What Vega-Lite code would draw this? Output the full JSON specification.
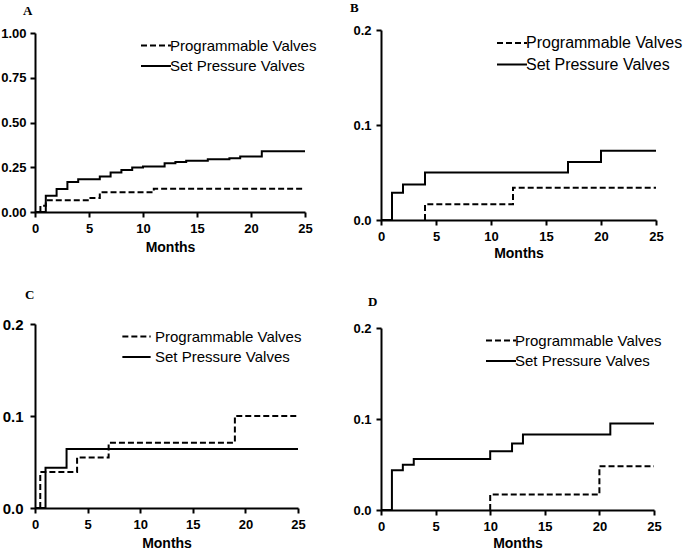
{
  "$schema": "https://vega.github.io/schema/vega-lite/v6.json",
  "padding": {"left": 0, "top": 2, "right": 0, "bottom": 0},
  "background": "white",
  "columns": 2,
  "spacing": {"column": 76, "row": 104},
  "bounds": "flush",
  "resolve": {
    "scale": {"strokeDash": "independent", "x": "independent", "y": "independent"},
    "legend": {"strokeDash": "independent"}
  },
  "config": {
    "view": {"stroke": null},
    "axis": {
      "domainColor": "black", "domainWidth": 2, "tickColor": "black", "tickWidth": 2, "tickSize": 5, "zindex": 1,
      "labelFlush": false, "labelOverlap": false,
      "labelFont": "Liberation Sans", "labelFontWeight": "bold", "labelFontSize": 13, "labelColor": "black",
      "grid": false, "titleFont": "Liberation Sans", "titleFontWeight": "bold", "titleFontSize": 14, "titleColor": "black"
    },
    "legend": {
      "symbolType": "stroke", "symbolSize": 900, "symbolStrokeWidth": 2, "symbolStrokeColor": "black",
      "labelFont": "Liberation Sans", "labelFontSize": 15, "labelColor": "black", "labelOffset": -2, "padding": 0,
      "clipHeight": 19, "rowPadding": 1.5
    },
    "title": {"font": "Liberation Serif", "fontSize": 13, "fontWeight": "bold", "anchor": "start", "frame": "group", "color": "black"},
    "line": {"color": "black", "strokeWidth": 2, "interpolate": "step-after"}
  },
  "datasets": {
    "A": [
      {"series": "Programmable Valves", "k": 0, "month": 0.5, "p": 0},
      {"series": "Programmable Valves", "k": 1, "month": 0.5, "p": 0.035},
      {"series": "Programmable Valves", "k": 2, "month": 1, "p": 0.065},
      {"series": "Programmable Valves", "k": 3, "month": 5, "p": 0.078},
      {"series": "Programmable Valves", "k": 4, "month": 6, "p": 0.111},
      {"series": "Programmable Valves", "k": 5, "month": 11, "p": 0.13},
      {"series": "Programmable Valves", "k": 6, "month": 25, "p": 0.13},
      {"series": "Set Pressure Valves", "k": 0, "month": 0, "p": 0},
      {"series": "Set Pressure Valves", "k": 1, "month": 1, "p": 0.091},
      {"series": "Set Pressure Valves", "k": 2, "month": 2, "p": 0.128},
      {"series": "Set Pressure Valves", "k": 3, "month": 3, "p": 0.167},
      {"series": "Set Pressure Valves", "k": 4, "month": 4, "p": 0.183},
      {"series": "Set Pressure Valves", "k": 5, "month": 6, "p": 0.198},
      {"series": "Set Pressure Valves", "k": 6, "month": 7, "p": 0.22},
      {"series": "Set Pressure Valves", "k": 7, "month": 8, "p": 0.235},
      {"series": "Set Pressure Valves", "k": 8, "month": 9, "p": 0.248},
      {"series": "Set Pressure Valves", "k": 9, "month": 10, "p": 0.254},
      {"series": "Set Pressure Valves", "k": 10, "month": 12, "p": 0.272},
      {"series": "Set Pressure Valves", "k": 11, "month": 13, "p": 0.279},
      {"series": "Set Pressure Valves", "k": 12, "month": 14, "p": 0.287},
      {"series": "Set Pressure Valves", "k": 13, "month": 16, "p": 0.295},
      {"series": "Set Pressure Valves", "k": 14, "month": 18, "p": 0.3},
      {"series": "Set Pressure Valves", "k": 15, "month": 19, "p": 0.31},
      {"series": "Set Pressure Valves", "k": 16, "month": 21, "p": 0.34},
      {"series": "Set Pressure Valves", "k": 17, "month": 25, "p": 0.34}
    ],
    "B": [
      {"series": "Programmable Valves", "k": 0, "month": 4, "p": 0},
      {"series": "Programmable Valves", "k": 1, "month": 4, "p": 0.0165},
      {"series": "Programmable Valves", "k": 2, "month": 12, "p": 0.034},
      {"series": "Programmable Valves", "k": 3, "month": 25, "p": 0.034},
      {"series": "Set Pressure Valves", "k": 0, "month": 0, "p": 0},
      {"series": "Set Pressure Valves", "k": 1, "month": 1, "p": 0.0288},
      {"series": "Set Pressure Valves", "k": 2, "month": 2, "p": 0.0375},
      {"series": "Set Pressure Valves", "k": 3, "month": 4, "p": 0.05},
      {"series": "Set Pressure Valves", "k": 4, "month": 17, "p": 0.061},
      {"series": "Set Pressure Valves", "k": 5, "month": 20, "p": 0.073},
      {"series": "Set Pressure Valves", "k": 6, "month": 25, "p": 0.073}
    ],
    "C": [
      {"series": "Programmable Valves", "k": 0, "month": 0.5, "p": 0},
      {"series": "Programmable Valves", "k": 1, "month": 0.5, "p": 0.039},
      {"series": "Programmable Valves", "k": 2, "month": 4, "p": 0.055},
      {"series": "Programmable Valves", "k": 3, "month": 7, "p": 0.071},
      {"series": "Programmable Valves", "k": 4, "month": 19, "p": 0.1},
      {"series": "Programmable Valves", "k": 5, "month": 25, "p": 0.1},
      {"series": "Set Pressure Valves", "k": 0, "month": 0, "p": 0},
      {"series": "Set Pressure Valves", "k": 1, "month": 1, "p": 0.0437},
      {"series": "Set Pressure Valves", "k": 2, "month": 3, "p": 0.064},
      {"series": "Set Pressure Valves", "k": 3, "month": 25, "p": 0.064}
    ],
    "D": [
      {"series": "Programmable Valves", "k": 0, "month": 10, "p": 0},
      {"series": "Programmable Valves", "k": 1, "month": 10, "p": 0.017},
      {"series": "Programmable Valves", "k": 2, "month": 20, "p": 0.048},
      {"series": "Programmable Valves", "k": 3, "month": 25, "p": 0.048},
      {"series": "Set Pressure Valves", "k": 0, "month": 0, "p": 0},
      {"series": "Set Pressure Valves", "k": 1, "month": 1, "p": 0.0437},
      {"series": "Set Pressure Valves", "k": 2, "month": 2, "p": 0.0498},
      {"series": "Set Pressure Valves", "k": 3, "month": 3, "p": 0.056},
      {"series": "Set Pressure Valves", "k": 4, "month": 10, "p": 0.0645},
      {"series": "Set Pressure Valves", "k": 5, "month": 12, "p": 0.073},
      {"series": "Set Pressure Valves", "k": 6, "month": 13, "p": 0.083},
      {"series": "Set Pressure Valves", "k": 7, "month": 21, "p": 0.095},
      {"series": "Set Pressure Valves", "k": 8, "month": 25, "p": 0.095}
    ]
  },
  "concat": [
    {
      "width": 270, "height": 182,
      "title": {"text": "A", "dx": -12, "offset": 9},
      "data": {"name": "A"},
      "mark": {"type": "line"},
      "encoding": {
        "x": {"field": "month", "type": "quantitative", "scale": {"domain": [0, 25], "nice": false},
              "axis": {"values": [0, 5, 10, 15, 20, 25], "title": "Months", "labelPadding": 5, "titlePadding": 5}},
        "y": {"field": "p", "type": "quantitative", "scale": {"domain": [0, 1], "nice": false, "range": [182, 3]},
              "axis": {"values": [0, 0.25, 0.5, 0.75, 1], "format": ".2f", "title": null, "labelPadding": 4}},
        "order": {"field": "k", "type": "quantitative"},
        "strokeDash": {"field": "series", "type": "nominal",
              "scale": {"domain": ["Programmable Valves", "Set Pressure Valves"], "range": [[6, 3], [1, 0]]},
              "legend": {"title": null, "orient": "none", "legendX": 105, "legendY": 6}}
      }
    },
    {
      "width": 275, "height": 190,
      "title": {"text": "B", "dx": -31, "offset": 9},
      "data": {"name": "B"},
      "mark": {"type": "line"},
      "encoding": {
        "x": {"field": "month", "type": "quantitative", "scale": {"domain": [0, 25], "nice": false},
              "axis": {"values": [0, 5, 10, 15, 20, 25], "title": "Months", "labelPadding": 5, "titlePadding": 3}},
        "y": {"field": "p", "type": "quantitative", "scale": {"domain": [0, 0.2], "nice": false},
              "axis": {"values": [0, 0.1, 0.2], "format": ".1f", "title": null, "labelPadding": 5}},
        "order": {"field": "k", "type": "quantitative"},
        "strokeDash": {"field": "series", "type": "nominal",
              "scale": {"domain": ["Programmable Valves", "Set Pressure Valves"], "range": [[6, 3], [1, 0]]},
              "legend": {"title": null, "orient": "none", "legendX": 115, "legendY": 3, "labelFontSize": 16, "clipHeight": 20}}
      }
    },
    {
      "width": 263, "height": 184,
      "title": {"text": "C", "dx": -10, "offset": 15},
      "data": {"name": "C"},
      "mark": {"type": "line"},
      "encoding": {
        "x": {"field": "month", "type": "quantitative", "scale": {"domain": [0, 25], "nice": false},
              "axis": {"values": [0, 5, 10, 15, 20, 25], "title": "Months", "labelPadding": 5, "titlePadding": 5}},
        "y": {"field": "p", "type": "quantitative", "scale": {"domain": [0, 0.2], "nice": false},
              "axis": {"values": [0, 0.1, 0.2], "format": ".1f", "title": null, "labelPadding": 7, "labelFontSize": 15}},
        "order": {"field": "k", "type": "quantitative"},
        "strokeDash": {"field": "series", "type": "nominal",
              "scale": {"domain": ["Programmable Valves", "Set Pressure Valves"], "range": [[6, 3], [1, 0]]},
              "legend": {"title": null, "orient": "none", "legendX": 86, "legendY": 3, "labelOffset": 3, "symbolSize": 800}}
      }
    },
    {
      "width": 273, "height": 186,
      "title": {"text": "D", "dx": -13, "offset": 13},
      "data": {"name": "D"},
      "mark": {"type": "line"},
      "encoding": {
        "x": {"field": "month", "type": "quantitative", "scale": {"domain": [0, 25], "nice": false},
              "axis": {"values": [0, 5, 10, 15, 20, 25], "title": "Months", "labelPadding": 5, "titlePadding": 3}},
        "y": {"field": "p", "type": "quantitative", "scale": {"domain": [0, 0.2], "nice": false, "range": [186, 4]},
              "axis": {"values": [0, 0.1, 0.2], "format": ".1f", "title": null, "labelPadding": 5}},
        "order": {"field": "k", "type": "quantitative"},
        "strokeDash": {"field": "series", "type": "nominal",
              "scale": {"domain": ["Programmable Valves", "Set Pressure Valves"], "range": [[6, 3], [1, 0]]},
              "legend": {"title": null, "orient": "none", "legendX": 104, "legendY": 7}}
      }
    }
  ]
}
